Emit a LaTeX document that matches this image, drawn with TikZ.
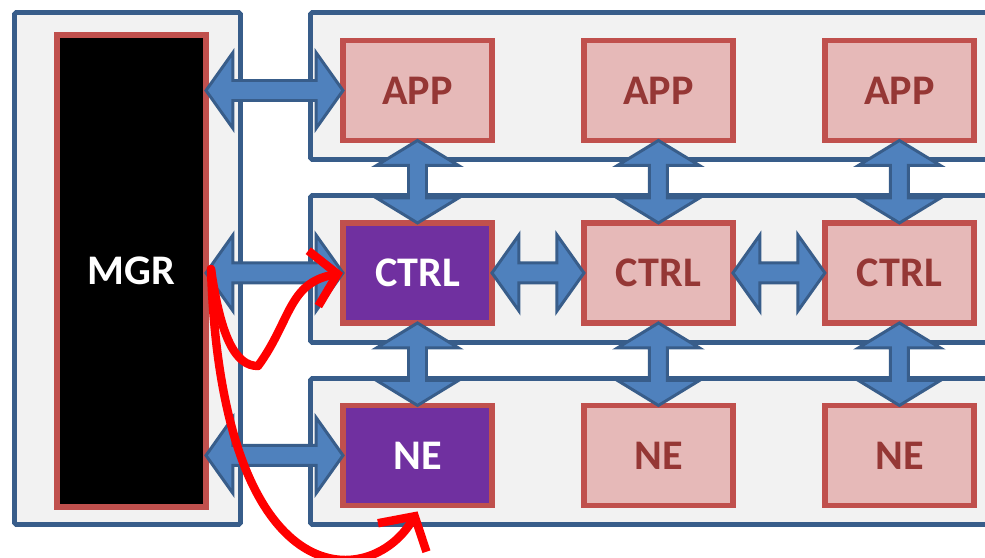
\documentclass[tikz,border=0pt]{standalone}
\usepackage{fontspec}
\setmainfont{Carlito}
\usetikzlibrary{arrows, arrows.meta, calc}

\definecolor{panelfill}{HTML}{F2F2F2}
\definecolor{panelline}{HTML}{385D8A}
\definecolor{boxfill}{HTML}{E6B9B8}
\definecolor{boxline}{HTML}{C0504D}
\definecolor{boxtext}{HTML}{953735}
\definecolor{selfill}{HTML}{7030A0}
\definecolor{arrowfill}{HTML}{4F81BD}

\tikzstyle{panel} = [draw=panelline, fill=panelfill, line width=2.8pt, rounded corners=1pt]
\tikzstyle{box} = [rectangle, minimum width=2.98cm, minimum height=2cm, outer sep=0pt, draw=boxline, line width=3.2pt, fill=boxfill, text=boxtext, font=\bfseries\fontsize{24}{28}\selectfont]
\tikzstyle{selbox} = [box, fill=selfill, text=white]
\tikzstyle{mgrbox} = [box, fill=black, text=white, minimum height=9.44cm]
\tikzstyle{blockarrow} = [draw=panelline, fill=arrowfill, line width=1.7pt, line join=miter]
\tikzstyle{redpen} = [draw=red, line width=4.8pt, line cap=round, line join=round, -{Straight Barb[length=14pt, width=32pt]}]

% block double arrows: left tip to right tip, top tip to bottom tip
\newcommand{\harrow}[2]{\draw [blockarrow] (#1) -- ++(27,-38) -- ++(0,28) -- ($(#2)+(-27,-10)$) -- ++(0,-28) -- (#2) -- ++(-27,38) -- ++(0,-28) -- ($(#1)+(27,10)$) -- ++(0,28) -- cycle;}
\newcommand{\varrow}[2]{\draw [blockarrow] (#1) -- ++(41,25) -- ++(-32,0) -- ($(#2)+(9,-25)$) -- ++(32,0) -- (#2) -- ++(-41,-25) -- ++(32,0) -- ($(#1)+(-9,25)$) -- ++(-32,0) -- cycle;}

\begin{document}
\begin{tikzpicture}[x=0.02cm, y=-0.02cm, node distance=3.65cm]

\useasboundingbox (0,0) rectangle (985,558);
\clip (0,0) rectangle (985,558);

%% panels
\draw [panel] (14.5,12.5) rectangle (240.5,524.5);
\draw [panel] (310.5,12.5) rectangle (1010,159.5);
\draw [panel] (310.5,195.5) rectangle (1010,342.5);
\draw [panel] (310.5,378.5) rectangle (1010,524.5);

%% boxes
\node (mgr) [mgrbox] at (131.5,271) {MGR};

\node (app1) [box] at (417.5,90.5) {APP};
\node (app2) [box, right of=app1, xshift=1.17cm] {APP};
\node (app3) [box, right of=app2, xshift=1.17cm] {APP};

\node (ctrl1) [selbox, below of=app1] {CTRL};
\node (ctrl2) [box, right of=ctrl1, xshift=1.17cm] {CTRL};
\node (ctrl3) [box, right of=ctrl2, xshift=1.17cm] {CTRL};

\node (ne1) [selbox, below of=ctrl1] {NE};
\node (ne2) [box, right of=ne1, xshift=1.17cm] {NE};
\node (ne3) [box, right of=ne2, xshift=1.17cm] {NE};

\coordinate (m1) at (mgr.east |- app1.west);
\coordinate (m2) at (mgr.east |- ctrl1.west);
\coordinate (m3) at (mgr.east |- ne1.west);

%% arrows
\harrow{m1}{app1.west}
\harrow{m2}{ctrl1.west}
\harrow{m3}{ne1.west}
\harrow{ctrl1.east}{ctrl2.west}
\harrow{ctrl2.east}{ctrl3.west}

\varrow{app1.south}{ctrl1.north}
\varrow{app2.south}{ctrl2.north}
\varrow{app3.south}{ctrl3.north}
\varrow{ctrl1.south}{ne1.north}
\varrow{ctrl2.south}{ne2.north}
\varrow{ctrl3.south}{ne3.north}

%% red strokes
\draw [redpen] ($(mgr.east)+(5,-2)$) .. controls +(10,70) and +(-22,0) .. (258,366) .. controls +(33,-45) and +(-55,10) .. (ctrl1.west);
\draw [redpen] ($(mgr.east)+(5,-2)$) .. controls +(11,330) and +(-47,80) .. ($(ne1.south)+(0,6)$);

\end{tikzpicture}
\end{document}
